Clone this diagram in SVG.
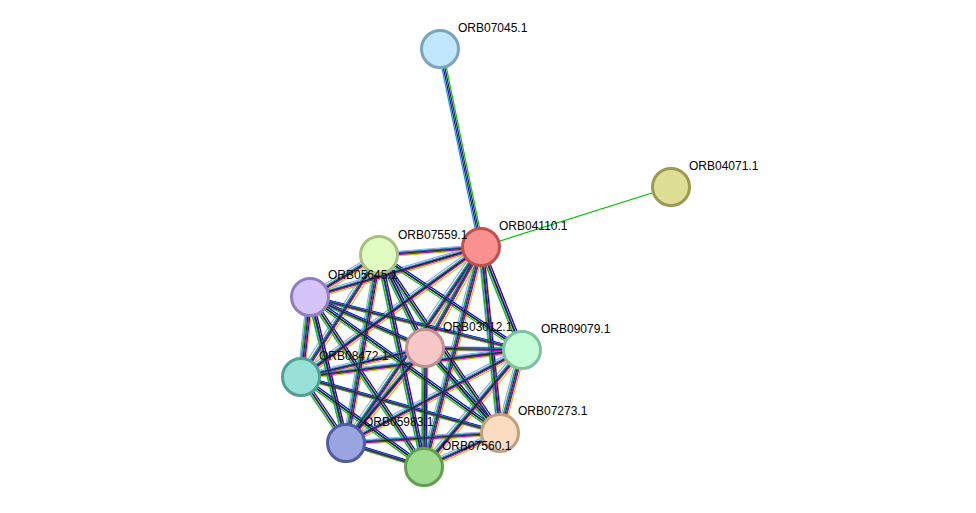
<svg xmlns="http://www.w3.org/2000/svg" xmlns:xlink="http://www.w3.org/1999/xlink" width="976" height="513" viewBox="0 0 976 513">
<style>
.n{stroke-width:3}
.t{font-family:"Liberation Sans",Arial,sans-serif;font-size:12px;fill:#000}
#E line{stroke-width:1.2}
</style>
<defs>
<g id="E">
<line x1="481" y1="247" x2="379" y2="255"/><line x1="481" y1="247" x2="310" y2="297"/><line x1="481" y1="247" x2="425" y2="348"/><line x1="481" y1="247" x2="522" y2="350"/><line x1="481" y1="247" x2="301" y2="377"/><line x1="481" y1="247" x2="500" y2="433"/><line x1="481" y1="247" x2="346" y2="443"/><line x1="481" y1="247" x2="424" y2="467"/>
<line x1="379" y1="255" x2="310" y2="297"/><line x1="379" y1="255" x2="425" y2="348"/><line x1="379" y1="255" x2="522" y2="350"/><line x1="379" y1="255" x2="301" y2="377"/><line x1="379" y1="255" x2="500" y2="433"/><line x1="379" y1="255" x2="346" y2="443"/><line x1="379" y1="255" x2="424" y2="467"/>
<line x1="310" y1="297" x2="425" y2="348"/><line x1="310" y1="297" x2="522" y2="350"/><line x1="310" y1="297" x2="301" y2="377"/><line x1="310" y1="297" x2="500" y2="433"/><line x1="310" y1="297" x2="346" y2="443"/><line x1="310" y1="297" x2="424" y2="467"/>
<line x1="425" y1="348" x2="522" y2="350"/><line x1="425" y1="348" x2="301" y2="377"/><line x1="425" y1="348" x2="500" y2="433"/><line x1="425" y1="348" x2="346" y2="443"/><line x1="425" y1="348" x2="424" y2="467"/>
<line x1="522" y1="350" x2="301" y2="377"/><line x1="522" y1="350" x2="500" y2="433"/><line x1="522" y1="350" x2="346" y2="443"/><line x1="522" y1="350" x2="424" y2="467"/>
<line x1="301" y1="377" x2="500" y2="433"/><line x1="301" y1="377" x2="346" y2="443"/><line x1="301" y1="377" x2="424" y2="467"/>
<line x1="500" y1="433" x2="346" y2="443"/><line x1="500" y1="433" x2="424" y2="467"/>
<line x1="346" y1="443" x2="424" y2="467"/>
</g>
</defs>
<rect width="976" height="513" fill="#fff"/>
<g id="connectors">
<use xlink:href="#E" stroke="#a0a0f0" transform="translate(-3,-2)"/>
<use xlink:href="#E" stroke="#c8c800" transform="translate(3,2)"/>
<use xlink:href="#E" stroke="#00c000" transform="translate(-2,1)"/>
<use xlink:href="#E" stroke="#0000e0" transform="translate(2,-1)"/>
<use xlink:href="#E" stroke="#c000c0" transform="translate(1,1)"/>
<use xlink:href="#E" stroke="#00a0b0" transform="translate(-1,-1)"/>
<use xlink:href="#E" stroke="#202020" transform="translate(0,0)"/>
<line x1="438" y1="49" x2="479" y2="247" stroke="#00a0b0" stroke-width="1.2"/>
<line x1="439.5" y1="49" x2="480.5" y2="247" stroke="#0000e0" stroke-width="1.2"/>
<line x1="441" y1="49" x2="482" y2="247" stroke="#202020" stroke-width="1.2"/>
<line x1="442.5" y1="49" x2="483.5" y2="247" stroke="#00c000" stroke-width="1.2"/>
<line x1="481" y1="247" x2="671" y2="187" stroke="#00c000" stroke-width="1.2"/>
</g>
<g id="ORB07045.1"><circle class="n" cx="440" cy="49" r="18.5" fill="#bfe6fb" stroke="#7ba3c0"/><text class="t" x="458" y="32">ORB07045.1</text></g>
<g id="ORB04071.1"><circle class="n" cx="671" cy="187" r="18.5" fill="#dede96" stroke="#9a9a50"/><text class="t" x="689" y="170">ORB04071.1</text></g>
<g id="ORB04110.1"><circle class="n" cx="481" cy="247" r="18.5" fill="#fa9090" stroke="#c05050"/><text class="t" x="499" y="230">ORB04110.1</text></g>
<g id="ORB07559.1"><circle class="n" cx="379" cy="255" r="18.5" fill="#e0fcc0" stroke="#a8c080"/><text class="t" x="398" y="239">ORB07559.1</text></g>
<g id="ORB05645.1"><circle class="n" cx="310" cy="297" r="18.5" fill="#d4c4fa" stroke="#9080c0"/><text class="t" x="328" y="279">ORB05645.1</text></g>
<g id="ORB03012.1"><circle class="n" cx="425" cy="348" r="18.5" fill="#f8c8c8" stroke="#c09090"/><text class="t" x="443" y="331">ORB03012.1</text></g>
<g id="ORB09079.1"><circle class="n" cx="522" cy="350" r="18.5" fill="#c4fcd8" stroke="#80c0a0"/><text class="t" x="541" y="333">ORB09079.1</text></g>
<g id="ORB08472.1"><circle class="n" cx="301" cy="377" r="18.5" fill="#98e0d8" stroke="#50a098"/><text class="t" x="319" y="360">ORB08472.1</text></g>
<g id="ORB07273.1"><circle class="n" cx="500" cy="433" r="18.5" fill="#fcdcc0" stroke="#c0a080"/><text class="t" x="518" y="415">ORB07273.1</text></g>
<g id="ORB05983.1"><circle class="n" cx="346" cy="443" r="18.5" fill="#9aa4e0" stroke="#505ca0"/><text class="t" x="364" y="426">ORB05983.1</text></g>
<g id="ORB07560.1"><circle class="n" cx="424" cy="467" r="18.5" fill="#a0dc90" stroke="#60a050"/><text class="t" x="442" y="450">ORB07560.1</text></g>
</svg>
